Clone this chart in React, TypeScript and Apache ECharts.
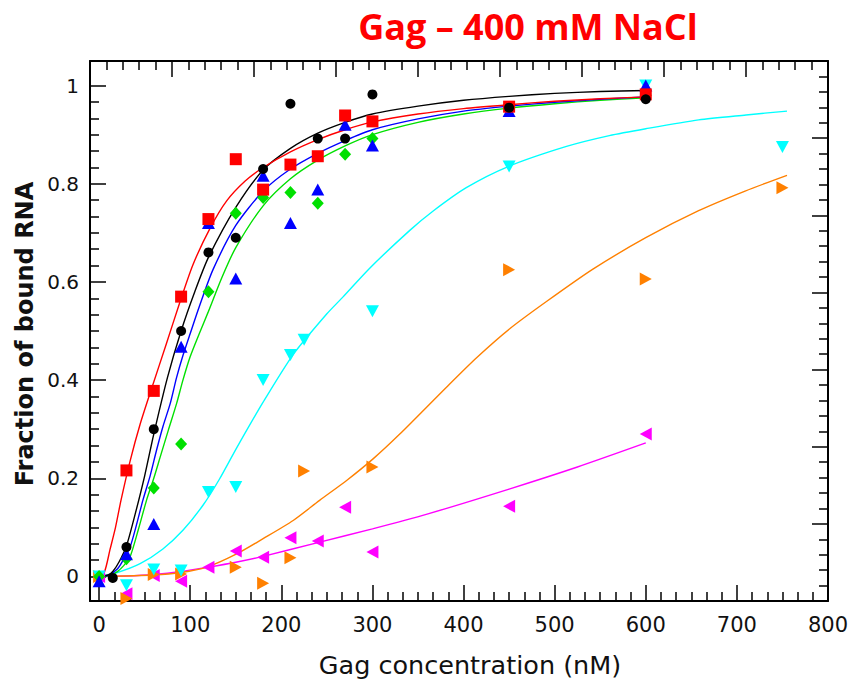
import React, { useEffect, useRef } from "react";
import * as echarts from "echarts";

// ---------- measured points ----------
const blackX = [15, 30, 60, 90, 120, 150, 180, 210, 240, 270, 300, 450, 600];
const blackY = [-0.003, 0.06, 0.3, 0.5, 0.66, 0.69, 0.83, 0.963, 0.892, 0.892, 0.982, 0.955, 0.972];

const redX = [30, 60, 90, 120, 150, 180, 210, 240, 270, 300, 450, 600];
const redY = [0.216, 0.378, 0.57, 0.728, 0.85, 0.788, 0.839, 0.856, 0.939, 0.927, 0.957, 0.982];

const blueX = [0, 30, 60, 90, 120, 150, 180, 210, 240, 270, 300, 450, 600];
const blueY = [-0.01, 0.045, 0.107, 0.468, 0.72, 0.607, 0.816, 0.72, 0.788, 0.92, 0.878, 0.948, 1.0];

const greenX = [0, 30, 60, 90, 120, 150, 180, 210, 240, 270, 300, 450, 600];
const greenY = [0, 0.036, 0.18, 0.27, 0.58, 0.74, 0.772, 0.782, 0.76, 0.86, 0.892, 0.955, 0.98];

const cyanX = [0, 30, 60, 90, 120, 150, 180, 210, 225, 300, 450, 600, 750];
const cyanY = [0, -0.018, 0.014, 0.012, 0.172, 0.182, 0.4, 0.451, 0.482, 0.54, 0.835, 1.0, 0.875];

const orangeX = [0, 30, 60, 90, 150, 180, 210, 225, 300, 450, 600, 750];
const orangeY = [0, -0.045, 0.004, 0.005, 0.019, -0.014, 0.038, 0.215, 0.223, 0.625, 0.606, 0.792];

const magentaX = [0, 30, 60, 90, 120, 150, 180, 210, 240, 270, 300, 450, 600];
const magentaY = [0, -0.035, 0.002, -0.01, 0.019, 0.052, 0.039, 0.079, 0.072, 0.141, 0.05, 0.143, 0.29];

// ---------- fitted curves ----------
const blackFitX = [0, 10, 15, 22, 30, 40, 50, 60, 75, 90, 105, 120, 150, 180, 210, 240, 270, 300, 350, 400, 450, 500, 550, 600];
const blackFitY = [0, 0.003, 0.01, 0.03, 0.062, 0.13, 0.205, 0.29, 0.405, 0.5, 0.58, 0.65, 0.752, 0.828, 0.872, 0.903, 0.925, 0.942, 0.958, 0.97, 0.978, 0.984, 0.988, 0.99];

const redFitX = [0, 6, 12, 18, 24, 34, 45, 58, 74, 88, 103, 122, 140, 160, 180, 210, 240, 270, 300, 350, 400, 450, 500, 550, 600];
const redFitY = [0, 0.01, 0.055, 0.1, 0.155, 0.235, 0.31, 0.385, 0.475, 0.555, 0.635, 0.71, 0.765, 0.805, 0.833, 0.865, 0.89, 0.91, 0.926, 0.942, 0.953, 0.961, 0.968, 0.973, 0.977];

const blueFitX = [0, 10, 20, 27, 34, 41, 48, 56, 63, 70, 78, 85, 92, 100, 110, 125, 150, 180, 210, 240, 270, 300, 350, 400, 450, 500, 550, 600];
const blueFitY = [0, 0.002, 0.015, 0.035, 0.06, 0.105, 0.155, 0.205, 0.257, 0.305, 0.352, 0.405, 0.45, 0.495, 0.55, 0.625, 0.715, 0.785, 0.83, 0.862, 0.888, 0.91, 0.932, 0.948, 0.958, 0.966, 0.972, 0.977];

const greenFitX = [0, 10, 20, 27, 34, 43, 52, 60, 67, 76, 85, 92, 100, 110, 120, 135, 150, 180, 210, 240, 270, 300, 350, 400, 450, 500, 550, 600];
const greenFitY = [0, 0.001, 0.01, 0.022, 0.04, 0.095, 0.155, 0.2, 0.243, 0.298, 0.352, 0.4, 0.448, 0.495, 0.54, 0.61, 0.67, 0.755, 0.81, 0.848, 0.877, 0.9, 0.925, 0.942, 0.954, 0.963, 0.97, 0.975];

const cyanFitX = [0, 20, 45, 70, 92, 114, 132, 151, 180, 213, 250, 268, 297, 341, 367, 403, 449, 513, 560, 600, 658, 710, 755];
const cyanFitY = [0, 0.008, 0.026, 0.056, 0.094, 0.145, 0.198, 0.262, 0.355, 0.452, 0.535, 0.57, 0.628, 0.705, 0.745, 0.792, 0.835, 0.876, 0.898, 0.912, 0.93, 0.94, 0.948];

const orangeFitX = [0, 60, 90, 118, 151, 180, 213, 242, 272, 301, 330, 381, 414, 451, 491, 542, 600, 658, 709, 755];
const orangeFitY = [0, 0.003, 0.008, 0.019, 0.046, 0.077, 0.114, 0.155, 0.196, 0.24, 0.29, 0.385, 0.445, 0.505, 0.56, 0.626, 0.69, 0.745, 0.785, 0.817];

const magentaFitX = [0, 30, 60, 90, 120, 150, 180, 240, 300, 360, 450, 525, 600];
const magentaFitY = [0, 0.001, 0.004, 0.01, 0.019, 0.029, 0.041, 0.069, 0.097, 0.127, 0.178, 0.223, 0.272];

// ---------- axis ticks ----------
const xMajor = [0, 100, 200, 300, 400, 500, 600, 700, 800];
const yMajor = [0, 0.2, 0.4, 0.6, 0.8, 1];
const xMinor: number[] = [];
for (let k = 1; k < 48; k++) if (k % 6 !== 0) xMinor.push((k * 100) / 6);
const yMinor: number[] = [];
for (let k = 1; k < 30; k++) if (k % 6 !== 0) yMinor.push(k / 30);

const zip = (xs: number[], ys: number[]) => xs.map((x, i) => [x, ys[i]]);

const FONT = "'DejaVu Sans', Verdana, sans-serif";
const tickStyle = { color: "#000", width: 1.5 };
const lineAxis = { show: true, onZero: false, lineStyle: { color: "#000", width: 2 } };

export default function App() {
  const ref = useRef<HTMLDivElement>(null);
  useEffect(() => {
    if (!ref.current) return;
    const chart = echarts.init(ref.current, undefined, { renderer: "svg" });

    const fit = (name: string, xs: number[], ys: number[], color: string) => ({
      name: name + " fit",
      type: "line",
      data: zip(xs, ys),
      showSymbol: false,
      symbol: "none",
      smooth: 0.25,
      lineStyle: { color, width: 1.4 },
      z: 2,
      silent: true,
    });
    const pts = (name: string, xs: number[], ys: number[], color: string, symbol: string, size: any) => ({
      name,
      type: "scatter",
      data: zip(xs, ys),
      symbol,
      symbolSize: size,
      itemStyle: { color, opacity: 1 },
      z: 3,
    });

    const option: any = {
      animation: false,
      backgroundColor: "#fff",
      grid: { left: 90, top: 61, right: 25, bottom: 80, containLabel: false, outerBoundsMode: "none" },
      xAxis: [
        {
          type: "value", position: "bottom", min: -10, max: 800,
          axisLine: lineAxis,
          axisTick: { show: true, inside: true, length: 16, lineStyle: tickStyle, customValues: xMajor },
          axisLabel: { show: true, customValues: xMajor, margin: 13, fontSize: 21, fontFamily: FONT, color: "#111" },
          splitLine: { show: false },
        },
        {
          type: "value", position: "top", min: 0, max: 9, interval: 1,
          axisLine: lineAxis,
          axisTick: { show: true, inside: true, length: 16, lineStyle: tickStyle },
          minorTick: { show: true, splitNumber: 5, length: 9, lineStyle: tickStyle },
          axisLabel: { show: false },
          splitLine: { show: false },
        },
        {
          type: "value", position: "bottom", min: -10, max: 800,
          axisLine: { show: false, onZero: false },
          axisTick: { show: true, inside: true, length: 9, lineStyle: tickStyle, customValues: xMinor },
          axisLabel: { show: false },
          splitLine: { show: false },
        },
      ],
      yAxis: [
        {
          type: "value", position: "left", min: -0.05, max: 1.05,
          axisLine: lineAxis,
          axisTick: { show: true, inside: true, length: 16, lineStyle: tickStyle, customValues: yMajor },
          axisLabel: { show: true, customValues: yMajor, margin: 11, fontSize: 20, fontFamily: FONT, color: "#111" },
          splitLine: { show: false },
        },
        {
          type: "value", position: "right", min: 0, max: 7, interval: 1,
          axisLine: lineAxis,
          axisTick: { show: true, inside: true, length: 16, lineStyle: tickStyle },
          minorTick: { show: true, splitNumber: 5, length: 9, lineStyle: tickStyle },
          axisLabel: { show: false },
          splitLine: { show: false },
        },
        {
          type: "value", position: "left", min: -0.05, max: 1.05,
          axisLine: { show: false, onZero: false },
          axisTick: { show: true, inside: true, length: 9, lineStyle: tickStyle, customValues: yMinor },
          axisLabel: { show: false },
          splitLine: { show: false },
        },
      ],
      series: [
        fit("magenta", magentaFitX, magentaFitY, "#FF00FF"),
        fit("orange", orangeFitX, orangeFitY, "#FF8000"),
        fit("cyan", cyanFitX, cyanFitY, "#00FFFF"),
        fit("green", greenFitX, greenFitY, "#00E000"),
        fit("blue", blueFitX, blueFitY, "#0000FF"),
        fit("black", blackFitX, blackFitY, "#000000"),
        fit("red", redFitX, redFitY, "#FF0000"),
        pts("magenta", magentaX, magentaY, "#FF00FF", "path://M11,0 L0,6 L11,12 Z", [12, 13]),
        pts("orange", orangeX, orangeY, "#FF8000", "path://M0,0 L11,6 L0,12 Z", [12, 13]),
        pts("cyan", cyanX, cyanY, "#00FFFF", "path://M0,0 L12,0 L6,11 Z", [13, 12]),
        pts("green", greenX, greenY, "#00E000", "diamond", [12, 13]),
        pts("blue", blueX, blueY, "#0000FF", "triangle", [13, 12]),
        pts("red", redX, redY, "#FF0000", "rect", 12),
        pts("black", blackX, blackY, "#000000", "circle", 10),
      ],
      graphic: [
        {
          type: "text", x: 528, y: 26,
          style: { text: "Gag – 400 mM NaCl", fill: "#FF0000", font: "bold 36px 'Open Sans', 'Noto Sans', sans-serif", align: "center", verticalAlign: "middle" },
        },
        {
          type: "text", x: 470, y: 665,
          style: { text: "Gag concentration (nM)", fill: "#111", font: "25.5px " + FONT, align: "center", verticalAlign: "middle" },
        },
        {
          type: "text", x: 25, y: 334, rotation: Math.PI / 2,
          style: { text: "Fraction of bound RNA", fill: "#111", font: "bold 24px " + FONT, align: "center", verticalAlign: "middle" },
        },
      ],
    };
    chart.setOption(option);
    return () => chart.dispose();
  }, []);
  return <div ref={ref} style={{ position: "absolute", left: 0, top: 0, width: 853, height: 681 }} />;
}
